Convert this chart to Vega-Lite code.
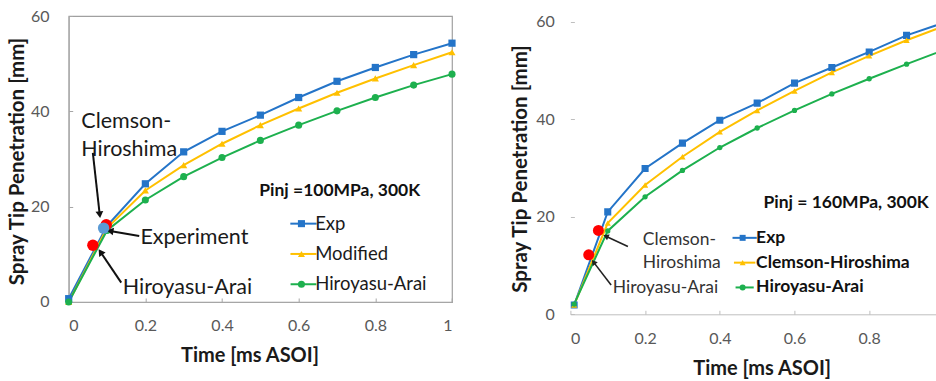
{
  "$schema": "https://vega.github.io/schema/vega-lite/v6.json",
  "padding": {"left": 6.7, "top": 7, "right": 0, "bottom": 0},
  "spacing": 117.7,
  "bounds": "flush",
  "background": "white",
  "config": {
    "font": "Lato",
    "view": {"stroke": null},
    "axis": {
      "grid": false,
      "domainColor": "#A6A6A6",
      "tickColor": "#A6A6A6",
      "tickSize": -4,
      "labelFont": "Lato",
      "labelFontSize": 16,
      "labelColor": "#595959",
      "titleFont": "Lato",
      "titleFontSize": 20,
      "titleFontWeight": "bold",
      "titleColor": "#1a1a1a"
    }
  },
  "datasets": {
    "left": [
      {"t": 0, "mm": 0.7, "series": "Exp"},
      {"t": 0.1, "mm": 16.0, "series": "Exp"},
      {"t": 0.2, "mm": 24.8, "series": "Exp"},
      {"t": 0.3, "mm": 31.5, "series": "Exp"},
      {"t": 0.4, "mm": 35.8, "series": "Exp"},
      {"t": 0.5, "mm": 39.2, "series": "Exp"},
      {"t": 0.6, "mm": 42.9, "series": "Exp"},
      {"t": 0.7, "mm": 46.3, "series": "Exp"},
      {"t": 0.8, "mm": 49.2, "series": "Exp"},
      {"t": 0.9, "mm": 51.9, "series": "Exp"},
      {"t": 1.0, "mm": 54.3, "series": "Exp"},
      {"t": 0, "mm": 0, "series": "Modified"},
      {"t": 0.1, "mm": 15.5, "series": "Modified"},
      {"t": 0.2, "mm": 23.4, "series": "Modified"},
      {"t": 0.3, "mm": 28.7, "series": "Modified"},
      {"t": 0.4, "mm": 33.2, "series": "Modified"},
      {"t": 0.5, "mm": 37.1, "series": "Modified"},
      {"t": 0.6, "mm": 40.6, "series": "Modified"},
      {"t": 0.7, "mm": 43.9, "series": "Modified"},
      {"t": 0.8, "mm": 46.9, "series": "Modified"},
      {"t": 0.9, "mm": 49.7, "series": "Modified"},
      {"t": 1.0, "mm": 52.4, "series": "Modified"},
      {"t": 0, "mm": 0, "series": "Hiroyasu-Arai"},
      {"t": 0.1, "mm": 15.0, "series": "Hiroyasu-Arai"},
      {"t": 0.2, "mm": 21.4, "series": "Hiroyasu-Arai"},
      {"t": 0.3, "mm": 26.3, "series": "Hiroyasu-Arai"},
      {"t": 0.4, "mm": 30.3, "series": "Hiroyasu-Arai"},
      {"t": 0.5, "mm": 33.9, "series": "Hiroyasu-Arai"},
      {"t": 0.6, "mm": 37.1, "series": "Hiroyasu-Arai"},
      {"t": 0.7, "mm": 40.1, "series": "Hiroyasu-Arai"},
      {"t": 0.8, "mm": 42.9, "series": "Hiroyasu-Arai"},
      {"t": 0.9, "mm": 45.5, "series": "Hiroyasu-Arai"},
      {"t": 1.0, "mm": 47.8, "series": "Hiroyasu-Arai"}
    ],
    "right": [
      {"t": 0.01, "mm": 1.9, "series": "Exp"},
      {"t": 0.1, "mm": 21.0, "series": "Exp"},
      {"t": 0.2, "mm": 29.9, "series": "Exp"},
      {"t": 0.3, "mm": 35.1, "series": "Exp"},
      {"t": 0.4, "mm": 39.8, "series": "Exp"},
      {"t": 0.5, "mm": 43.3, "series": "Exp"},
      {"t": 0.6, "mm": 47.4, "series": "Exp"},
      {"t": 0.7, "mm": 50.6, "series": "Exp"},
      {"t": 0.8, "mm": 53.8, "series": "Exp"},
      {"t": 0.9, "mm": 57.2, "series": "Exp"},
      {"t": 1.0, "mm": 59.8, "series": "Exp"},
      {"t": 0.01, "mm": 1.9, "series": "Clemson-Hiroshima"},
      {"t": 0.1, "mm": 18.7, "series": "Clemson-Hiroshima"},
      {"t": 0.2, "mm": 26.5, "series": "Clemson-Hiroshima"},
      {"t": 0.3, "mm": 32.3, "series": "Clemson-Hiroshima"},
      {"t": 0.4, "mm": 37.4, "series": "Clemson-Hiroshima"},
      {"t": 0.5, "mm": 41.8, "series": "Clemson-Hiroshima"},
      {"t": 0.6, "mm": 45.8, "series": "Clemson-Hiroshima"},
      {"t": 0.7, "mm": 49.6, "series": "Clemson-Hiroshima"},
      {"t": 0.8, "mm": 53.0, "series": "Clemson-Hiroshima"},
      {"t": 0.9, "mm": 56.2, "series": "Clemson-Hiroshima"},
      {"t": 1.0, "mm": 59.1, "series": "Clemson-Hiroshima"},
      {"t": 0.01, "mm": 2.1, "series": "Hiroyasu-Arai"},
      {"t": 0.1, "mm": 17.1, "series": "Hiroyasu-Arai"},
      {"t": 0.2, "mm": 24.1, "series": "Hiroyasu-Arai"},
      {"t": 0.3, "mm": 29.5, "series": "Hiroyasu-Arai"},
      {"t": 0.4, "mm": 34.2, "series": "Hiroyasu-Arai"},
      {"t": 0.5, "mm": 38.2, "series": "Hiroyasu-Arai"},
      {"t": 0.6, "mm": 41.8, "series": "Hiroyasu-Arai"},
      {"t": 0.7, "mm": 45.2, "series": "Hiroyasu-Arai"},
      {"t": 0.8, "mm": 48.3, "series": "Hiroyasu-Arai"},
      {"t": 0.9, "mm": 51.3, "series": "Hiroyasu-Arai"},
      {"t": 1.0, "mm": 54.2, "series": "Hiroyasu-Arai"}
    ],
    "leftMarks": [
      {"t": 0.098, "mm": 16.2, "kind": "Clemson-Hiroshima"},
      {"t": 0.063, "mm": 11.9, "kind": "Hiroyasu-Arai"},
      {"t": 0.091, "mm": 15.5, "kind": "Experiment"}
    ],
    "rightMarks": [
      {"t": 0.075, "mm": 17.2, "kind": "Clemson-Hiroshima"},
      {"t": 0.049, "mm": 12.2, "kind": "Hiroyasu-Arai"}
    ],
    "leftArrows": [
      {"t": 0.063, "mm": 31.3, "t2": 0.081, "mm2": 18.3},
      {"t": 0.184, "mm": 13.85, "t2": 0.108, "mm2": 14.9},
      {"t": 0.137, "mm": 4.06, "t2": 0.083, "mm2": 10.5}
    ],
    "rightArrows": [
      {"t": 0.154, "mm": 13.9, "t2": 0.095, "mm2": 16.0},
      {"t": 0.109, "mm": 6.0, "t2": 0.062, "mm2": 10.7}
    ],
    "leftLabels": [
      {"t": 0.033, "mm": 37.7, "label": "Clemson-\nHiroshima"},
      {"t": 0.187, "mm": 13.5, "label": "Experiment"},
      {"t": 0.141, "mm": 3.0, "label": "Hiroyasu-Arai"}
    ],
    "rightLabels": [
      {"t": 0.194, "mm": 15.2, "label": "Clemson-\nHiroshima"},
      {"t": 0.1135, "mm": 5.3, "label": "Hiroyasu-Arai"}
    ],
    "leftNote": [{"t": 0.497, "mm": 23.3, "label": "Pinj =100MPa, 300K"}],
    "rightNote": [{"t": 0.517, "mm": 22.9, "label": "Pinj = 160MPa, 300K"}]
  },
  "hconcat": [
    {
      "width": 383.3,
      "height": 286,
      "view": {"stroke": "#A0A0A0", "strokeWidth": 1.2},
      "encoding": {
        "x": {"field": "t", "type": "quantitative", "scale": {"domain": [0, 1], "nice": false},
          "axis": {"values": [0, 0.2, 0.4, 0.6, 0.8, 1], "format": "~g", "title": "Time [ms ASOI]", "labelPadding": 20, "titleX": 180.8, "titleY": 54, "titleBaseline": "middle", "titleAlign": "center"}},
        "y": {"field": "mm", "type": "quantitative", "scale": {"domain": [0, 60], "nice": false},
          "axis": {"values": [0, 20, 40, 60], "title": "Spray Tip Penetration [mm]", "titleFontSize": 20.5, "labelPadding": 23.7, "titleX": -50.7, "titleY": 145, "titleAngle": -90, "titleBaseline": "middle", "titleAlign": "center"}}
      },
      "layer": [
        {
          "data": {"name": "left"},
          "mark": {"type": "line", "strokeWidth": 2},
          "encoding": {
            "color": {"field": "series", "type": "nominal",
              "scale": {"domain": ["Exp", "Modified", "Hiroyasu-Arai"], "range": ["#2474C8", "#FFC000", "#1DB04E"]},
              "sort": ["Exp", "Modified", "Hiroyasu-Arai"],
              "legend": {"title": null, "orient": "none", "legendX": 225.5, "legendY": 198.4, "padding": 0,
                "labelFont": "Lato", "labelFontSize": 18.5, "labelColor": "#1a1a1a", "labelOffset": 2.5,
                "symbolType": "M-3.64,0H3.64", "symbolSize": 40, "symbolStrokeWidth": 2, "rowPadding": 11.3}}
          }
        },
        {
          "data": {"name": "left"},
          "transform": [{"calculate": "datum.series", "as": "kind"}],
          "mark": {"type": "point", "filled": true, "opacity": 1},
          "encoding": {
            "fill": {"field": "kind", "type": "nominal",
              "scale": {"domain": ["Exp", "Modified", "Hiroyasu-Arai", "zz"], "range": ["#2474C8", "#FFC000", "#1DB04E", "#ffffff"]},
              "legend": {"title": null, "orient": "none", "legendX": 223.5, "legendY": 198.4, "padding": 0,
                "values": ["Exp", "Modified", "Hiroyasu-Arai"],
                "labelFont": "Lato", "labelFontSize": 18.5, "labelOpacity": 0, "labelOffset": 2.5,
                "symbolSize": 50, "symbolStrokeWidth": 0, "rowPadding": 11.3}},
            "shape": {"field": "kind", "type": "nominal", "scale": {"domain": ["Exp", "Modified", "Hiroyasu-Arai", "zz"], "range": ["square", "triangle-up", "circle", "circle"]}},
            "size": {"field": "kind", "type": "nominal", "scale": {"domain": ["Exp", "Modified", "Hiroyasu-Arai"], "range": [52, 50, 68]}, "legend": null}
          }
        },
        {
          "data": {"name": "leftArrows"},
          "mark": {"type": "rule", "color": "#111111", "strokeWidth": 2},
          "encoding": {"x2": {"field": "t2"}, "y2": {"field": "mm2"}}
        },
        {
          "data": {"name": "leftArrows"},
          "transform": [{"calculate": "atan2((datum.t2 - datum.t) * 383.3, (datum.mm2 - datum.mm) * 4.767) * 180 / PI", "as": "ang"}],
          "mark": {"type": "point", "shape": "triangle-up", "filled": true, "color": "#111111", "size": 60, "opacity": 1},
          "encoding": {
            "x": {"field": "t2", "type": "quantitative"},
            "y": {"field": "mm2", "type": "quantitative"},
            "angle": {"field": "ang", "type": "quantitative", "scale": null}
          }
        },
        {
          "data": {"name": "leftMarks"},
          "transform": [{"filter": "datum.kind !== 'Experiment'"}],
          "mark": {"type": "point", "shape": "circle", "filled": true, "opacity": 1, "size": 130, "color": "#FF0000"}
        },
        {
          "data": {"name": "leftMarks"},
          "transform": [{"filter": "datum.kind === 'Experiment'"}],
          "mark": {"type": "point", "shape": "circle", "filled": true, "opacity": 1, "size": 130, "color": "#5B9BD5"}
        },
        {
          "data": {"name": "leftLabels"},
          "mark": {"type": "text", "align": "left", "baseline": "middle", "fontSize": 21.5, "lineBreak": "\n", "lineHeight": 27.7, "color": "#1a1a1a", "font": "Lato"},
          "encoding": {"text": {"field": "label"}}
        },
        {
          "data": {"name": "leftNote"},
          "mark": {"type": "text", "align": "left", "baseline": "middle", "fontSize": 17.5, "fontWeight": "bold", "color": "#111111", "font": "Lato"},
          "encoding": {"text": {"field": "label"}}
        }
      ]
    },
    {
      "width": 368.3,
      "height": 298.3,
      "encoding": {
        "x": {"field": "t", "type": "quantitative", "scale": {"domain": [0, 0.986], "nice": false},
          "axis": {"values": [0, 0.2, 0.4, 0.6, 0.8], "format": "~g", "title": "Time [ms ASOI]", "domainColor": "#BFBFBF", "tickColor": "#BFBFBF", "labelPadding": 20.7, "titleX": 191.3, "titleY": 54.7, "titleBaseline": "middle", "titleAlign": "center"}},
        "y": {"field": "mm", "type": "quantitative", "scale": {"domain": [0, 61.17], "nice": false},
          "axis": {"values": [0, 20, 40, 60], "title": "Spray Tip Penetration [mm]", "titleFontSize": 20.5, "domain": false, "tickColor": "#BFBFBF", "labelPadding": 20, "titleX": -49.4, "titleY": 152.5, "titleAngle": -90, "titleBaseline": "middle", "titleAlign": "center"}}
      },
      "layer": [
        {
          "mark": {"type": "rule", "color": "#BFBFBF", "strokeWidth": 1.2},
          "encoding": {"y": {"datum": 60}}
        },
        {
          "mark": {"type": "rule", "color": "#BFBFBF", "strokeWidth": 1.2},
          "encoding": {"x": {"datum": 0}, "y": {"datum": 0}, "y2": {"datum": 60}}
        },
        {
          "data": {"name": "right"},
          "mark": {"type": "line", "strokeWidth": 2, "clip": true},
          "encoding": {
            "color": {"field": "series", "type": "nominal",
              "scale": {"domain": ["Exp", "Clemson-Hiroshima", "Hiroyasu-Arai"], "range": ["#2474C8", "#FFC000", "#1DB04E"]},
              "sort": ["Exp", "Clemson-Hiroshima", "Hiroyasu-Arai"],
              "legend": {"title": null, "orient": "none", "legendX": 165.5, "legendY": 213.1, "padding": 0,
                "labelFont": "Lato", "labelFontSize": 17.5, "labelFontWeight": "bold", "labelColor": "#111111", "labelOffset": 2.7, "labelLimit": 300,
                "symbolType": "M-3.43,0H3.43", "symbolSize": 40, "symbolStrokeWidth": 2, "rowPadding": 5.8}}
          }
        },
        {
          "data": {"name": "right"},
          "transform": [{"calculate": "datum.series", "as": "kind"}],
          "mark": {"type": "point", "filled": true, "opacity": 1, "clip": true},
          "encoding": {
            "fill": {"field": "kind", "type": "nominal",
              "scale": {"domain": ["Exp", "Clemson-Hiroshima", "Hiroyasu-Arai", "zz"], "range": ["#2474C8", "#FFC000", "#1DB04E", "#ffffff"]},
              "legend": {"title": null, "orient": "none", "legendX": 163.5, "legendY": 213.1, "padding": 0,
                "values": ["Exp", "Clemson-Hiroshima", "Hiroyasu-Arai"],
                "labelFont": "Lato", "labelFontSize": 17.5, "labelFontWeight": "bold", "labelOpacity": 0, "labelOffset": 2.7, "labelLimit": 300,
                "symbolSize": 36, "symbolStrokeWidth": 0, "rowPadding": 5.8}},
            "shape": {"field": "kind", "type": "nominal", "scale": {"domain": ["Exp", "Clemson-Hiroshima", "Hiroyasu-Arai", "zz"], "range": ["square", "triangle-up", "circle", "circle"]}},
            "size": {"field": "kind", "type": "nominal", "scale": {"domain": ["Exp", "Clemson-Hiroshima", "Hiroyasu-Arai"], "range": [50, 28, 40]}, "legend": null}
          }
        },
        {
          "data": {"name": "rightArrows"},
          "mark": {"type": "rule", "color": "#222222", "strokeWidth": 1.6},
          "encoding": {"x2": {"field": "t2"}, "y2": {"field": "mm2"}}
        },
        {
          "data": {"name": "rightArrows"},
          "transform": [{"calculate": "atan2((datum.t2 - datum.t) * 373.5, (datum.mm2 - datum.mm) * 4.877) * 180 / PI", "as": "ang"}],
          "mark": {"type": "point", "shape": "triangle-up", "filled": true, "color": "#222222", "size": 40, "opacity": 1},
          "encoding": {
            "x": {"field": "t2", "type": "quantitative"},
            "y": {"field": "mm2", "type": "quantitative"},
            "angle": {"field": "ang", "type": "quantitative", "scale": null}
          }
        },
        {
          "data": {"name": "rightMarks"},
          "mark": {"type": "point", "shape": "circle", "filled": true, "opacity": 1, "size": 120, "color": "#FF0000"}
        },
        {
          "data": {"name": "rightLabels"},
          "mark": {"type": "text", "align": "left", "baseline": "middle", "fontSize": 17.5, "lineBreak": "\n", "lineHeight": 23, "color": "#333333", "font": "Lato"},
          "encoding": {"text": {"field": "label"}}
        },
        {
          "data": {"name": "rightNote"},
          "mark": {"type": "text", "align": "left", "baseline": "middle", "fontSize": 17.5, "fontWeight": "bold", "color": "#111111", "font": "Lato"},
          "encoding": {"text": {"field": "label"}}
        }
      ]
    }
  ],
  "resolve": {
    "scale": {"x": "independent", "y": "independent", "color": "independent", "shape": "independent", "size": "independent", "fill": "independent"},
    "legend": {"color": "independent", "fill": "independent", "shape": "independent"}
  }
}
